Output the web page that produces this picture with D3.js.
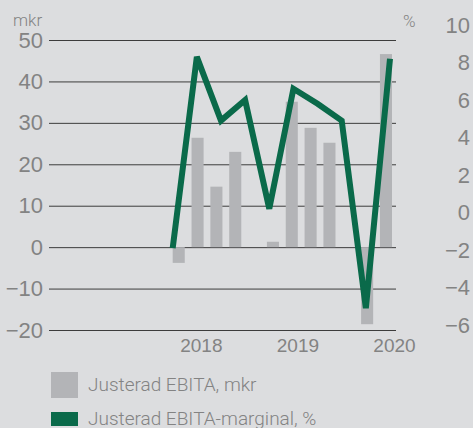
<!DOCTYPE html>
<html>
<head>
<meta charset="utf-8">
<script src="https://cdn.jsdelivr.net/npm/d3@7"></script>
<style>
  html, body { margin: 0; padding: 0; background: #dcdddf; }
  svg { display: block; font-family: Roboto, 'Liberation Sans', sans-serif; font-weight: 300; }
  .axis text { fill: #838383; }
</style>
</head>
<body>
<svg id="chart" width="473" height="428"></svg>
<script>
const quarters = ['Q4 2017', 'Q1 2018', 'Q2 2018', 'Q3 2018', 'Q4 2018',
  'Q1 2019', 'Q2 2019', 'Q3 2019', 'Q4 2019', 'Q1 2020']
const ebita = [-3.8, 26.4, 14.6, 23.0, 1.3, 35.1, 28.8, 25.2, -18.6, 46.6]
const margin = [-1.9, 8.3, 4.9, 6.0, 0.2, 6.6, 5.8, 4.9, -5.1, 8.2]
const leftTicks = [-20, -10, 0, 10, 20, 30, 40, 50]
const rightTicks = [-6, -4, -2, 0, 2, 4, 6, 8, 10]
const yearTicks = ['Q1 2018', 'Q1 2019', 'Q1 2020']
const legendLabels = ['Justerad EBITA, mkr', 'Justerad EBITA-marginal, %']

const svg = d3.select('#chart')
const plot = {left: 49, right: 396, top: 40, bottom: 330}
const textColor = '#838383'

// bars sit in groups of four with an empty slot between groups
const barSlots = quarters.flatMap((q, i) => (i > 0 && i % 4 === 0) ? ['gap' + i, q] : [q])

const xBar = d3.scaleBand().domain(barSlots).range([172.7, 392]).paddingInner(0.36).paddingOuter(0)
const xLine = d3.scalePoint().domain(quarters).range([172.7, 390])
const yLeft = d3.scaleLinear().domain([-20, 50]).range([plot.bottom, plot.top])
const yRight = d3.scaleLinear().domain([-6, 10]).range([325, 25])

// left axis + gridlines
const gLeft = svg.append('g')
  .attr('class', 'axis axis--left')
  .attr('transform', `translate(${plot.left},0)`)
  .call(d3.axisLeft(yLeft).tickValues(leftTicks).tickSizeInner(-(plot.right - plot.left)).tickSizeOuter(0).tickPadding(6))
gLeft.select('.domain').remove()
gLeft.selectAll('line').attr('stroke', '#3c3c3c').attr('stroke-width', 1)
gLeft.selectAll('text').attr('font-size', 22)

svg.append('text')
  .attr('x', 13).attr('y', 26)
  .attr('font-size', 17).attr('fill', textColor)
  .text('mkr')

// right axis (labels only)
const gRight = svg.append('g')
  .attr('class', 'axis axis--right')
  .attr('transform', 'translate(470,0)')
  .call(d3.axisLeft(yRight).tickValues(rightTicks).tickSize(0).tickPadding(0))
gRight.select('.domain').remove()
gRight.selectAll('text').attr('font-size', 22)

svg.append('text')
  .attr('x', 403).attr('y', 27)
  .attr('font-size', 17).attr('fill', textColor)
  .text('%')

// year labels
const gX = svg.append('g')
  .attr('class', 'axis axis--x')
  .attr('transform', `translate(4,${plot.bottom})`)
  .call(d3.axisBottom(xLine).tickValues(yearTicks).tickFormat((q) => q.slice(3)).tickSize(0).tickPadding(9))
gX.select('.domain').remove()
gX.selectAll('text').attr('font-size', 19)

// bars
svg.append('g')
  .selectAll('rect')
  .data(quarters)
  .join('rect')
  .attr('x', (q) => xBar(q))
  .attr('width', xBar.bandwidth())
  .attr('y', (q, i) => yLeft(Math.max(0, ebita[i])))
  .attr('height', (q, i) => Math.abs(yLeft(ebita[i]) - yLeft(0)))
  .attr('fill', '#b3b4b7')

// margin line
const line = d3.line()
  .x((d) => xLine(d.q))
  .y((d) => yRight(d.v))
svg.append('path')
  .datum(quarters.map((q, i) => ({q, v: margin[i]})))
  .attr('d', line)
  .attr('fill', 'none')
  .attr('stroke', '#0a6a4a')
  .attr('stroke-width', 6)
  .attr('stroke-linejoin', 'miter')

// legend
const legend = svg.append('g').attr('transform', 'translate(51,372)')
legend.append('rect').attr('x', 0).attr('y', 0).attr('width', 27).attr('height', 26).attr('fill', '#b3b4b7')
legend.append('rect').attr('x', 0).attr('y', 40).attr('width', 27).attr('height', 14).attr('fill', '#0a6a4a')
legend.selectAll('text')
  .data(legendLabels)
  .join('text')
  .attr('x', 37)
  .attr('y', (d, i) => i === 0 ? 19 : 53)
  .attr('font-size', 19)
  .attr('fill', textColor)
  .text((d) => d)
</script>
</body>
</html>
